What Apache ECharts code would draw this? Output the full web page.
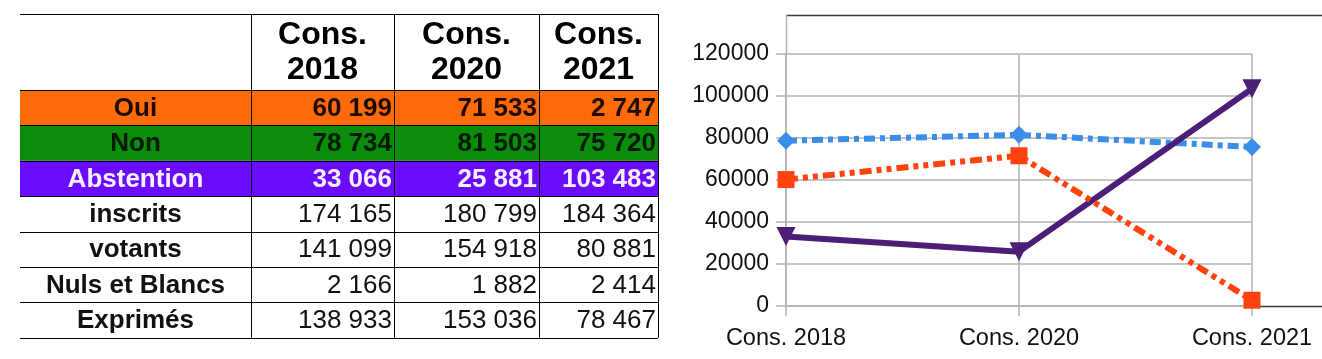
<!DOCTYPE html>
<html><head><meta charset="utf-8">
<script src="https://cdn.jsdelivr.net/npm/echarts/dist/echarts.min.js"></script>
<style>html,body{margin:0;padding:0;background:#fff}#c{width:1322px;height:359px}</style>
</head><body><div id="c"></div>
<script>
// ---- data ----
const categories = ['Cons. 2018', 'Cons. 2020', 'Cons. 2021'];
const headerLine1 = ['Cons.', 'Cons.', 'Cons.'];
const headerLine2 = ['2018', '2020', '2021'];
const rowLabels = ['Oui', 'Non', 'Abstention', 'inscrits', 'votants', 'Nuls et Blancs', 'Exprimés'];
const oui = [60199, 71533, 2747];
const non = [78734, 81503, 75720];
const abstention = [33066, 25881, 103483];
const inscrits = [174165, 180799, 184364];
const votants = [141099, 154918, 80881];
const nulsBlancs = [2166, 1882, 2414];
const exprimes = [138933, 153036, 78467];
const yMin = 0, yMax = 120000, yStep = 20000;

// ---- layout / style ----
const FONT = 'Liberation Sans, Arial, sans-serif';
const colEdges = [20, 251, 394, 539, 658];
const tableTop = 14, headerH = 76, rowH = 35.4;
const rowFill = ['#ff6a0a', '#0b8c0b', '#6a0dff', null, null, null, null];
const rowText = ['#1f0a00', '#021a02', '#f6f0ff', '#111', '#111', '#111', '#111'];
const rowBold = [true, true, true, false, false, false, false];
const tableRows = [oui, non, abstention, inscrits, votants, nulsBlancs, exprimes];

const fmt = n => String(n).replace(/\B(?=(\d{3})+(?!\d))/g, ' ');

const g = [];
const bodyTop = tableTop + headerH;
const tableBottom = bodyTop + rowH * rowLabels.length;
rowLabels.forEach((lab, i) => {
  if (rowFill[i]) g.push({type: 'rect', shape: {x: colEdges[0], y: bodyTop + i * rowH, width: colEdges[4] - colEdges[0], height: rowH}, style: {fill: rowFill[i]}, z: 1});
});
g.push({type: 'line', shape: {x1: colEdges[0], y1: tableTop + 0.5, x2: colEdges[4], y2: tableTop + 0.5}, style: {stroke: '#000', lineWidth: 1}, z: 3});
for (let i = 0; i <= rowLabels.length; i++) {
  const y = Math.round(bodyTop + i * rowH) + 0.5;
  g.push({type: 'line', shape: {x1: colEdges[0], y1: y, x2: colEdges[4], y2: y}, style: {stroke: '#000', lineWidth: 1}, z: 3});
}
for (let c = 1; c < colEdges.length; c++) {
  g.push({type: 'line', shape: {x1: colEdges[c] + 0.5, y1: tableTop, x2: colEdges[c] + 0.5, y2: tableBottom}, style: {stroke: '#000', lineWidth: 1}, z: 3});
}
for (let c = 0; c < 3; c++) {
  const cx = (colEdges[c + 1] + colEdges[c + 2]) / 2;
  g.push({type: 'text', x: cx, y: tableTop + 21, style: {text: headerLine1[c], font: 'bold 32px ' + FONT, fill: '#000', align: 'center', verticalAlign: 'middle'}, z: 4});
  g.push({type: 'text', x: cx, y: tableTop + 56, style: {text: headerLine2[c], font: 'bold 32px ' + FONT, fill: '#000', align: 'center', verticalAlign: 'middle'}, z: 4});
}
rowLabels.forEach((lab, i) => {
  const cy = bodyTop + i * rowH + rowH / 2 + 1;
  g.push({type: 'text', x: (colEdges[0] + colEdges[1]) / 2, y: cy, style: {text: lab, font: 'bold 26px ' + FONT, fill: rowText[i], align: 'center', verticalAlign: 'middle'}, z: 4});
  for (let c = 0; c < 3; c++) {
    g.push({type: 'text', x: colEdges[c + 2] - 2, y: cy, style: {text: fmt(tableRows[i][c]), font: (rowBold[i] ? 'bold ' : '') + '26px ' + FONT, fill: rowText[i], align: 'right', verticalAlign: 'middle'}, z: 4});
  }
});
g.push({type: 'line', shape: {x1: 786, y1: 15.5, x2: 1322, y2: 15.5}, style: {stroke: '#3a3a3a', lineWidth: 1.5}, z: 3});
g.push({type: 'line', shape: {x1: 786.5, y1: 15, x2: 786.5, y2: 54}, style: {stroke: '#b3b3b3', lineWidth: 1.5}, z: 3});
g.push({type: 'line', shape: {x1: 1252, y1: 306.5, x2: 1322, y2: 306.5}, style: {stroke: '#3a3a3a', lineWidth: 1.5}, z: 3});

const chart = echarts.init(document.getElementById('c'), null, {renderer: 'canvas'});
chart.setOption({
  animation: false,
  backgroundColor: '#fff',
  textStyle: {fontFamily: FONT},
  graphic: g,
  grid: {left: 786, right: 70, top: 54, bottom: 53, containLabel: false},
  xAxis: {
    type: 'category', data: categories, boundaryGap: false,
    axisLine: {show: true, lineStyle: {color: '#b3b3b3', width: 1.5}},
    axisTick: {show: true, alignWithLabel: true, length: 10, lineStyle: {color: '#b3b3b3', width: 1.5}},
    splitLine: {show: true, lineStyle: {color: '#b3b3b3', width: 1.5}},
    axisLabel: {color: '#111', fontSize: 23.5, fontFamily: FONT, margin: 21}
  },
  yAxis: {
    type: 'value', min: yMin, max: yMax, interval: yStep,
    axisLine: {show: true, lineStyle: {color: '#b3b3b3', width: 1.5}},
    axisTick: {show: true, length: 10, lineStyle: {color: '#b3b3b3', width: 1.5}},
    splitLine: {show: true, lineStyle: {color: '#b3b3b3', width: 1.5}},
    axisLabel: {color: '#111', fontSize: 23, fontFamily: FONT, margin: 17, formatter: v => String(v)}
  },
  series: [
    {name: 'Non', type: 'line', data: non, symbol: 'diamond', symbolSize: 18,
     itemStyle: {color: '#3a8ee8'}, lineStyle: {color: '#3a8ee8', width: 6, type: [11, 5, 5, 5], cap: 'butt'}, z: 2},
    {name: 'Abstention', type: 'line', data: abstention, symbol: 'triangle', symbolRotate: 180, symbolSize: 19,
     itemStyle: {color: '#4b1f78'}, lineStyle: {color: '#4b1f78', width: 6, type: 'solid'}, z: 3},
    {name: 'Oui', type: 'line', data: oui, symbol: 'rect', symbolSize: 17,
     itemStyle: {color: '#ff420e'}, lineStyle: {color: '#ff420e', width: 6, type: [12, 5, 5, 5, 5, 5], cap: 'butt'}, z: 4}
  ]
});
</script></body></html>
